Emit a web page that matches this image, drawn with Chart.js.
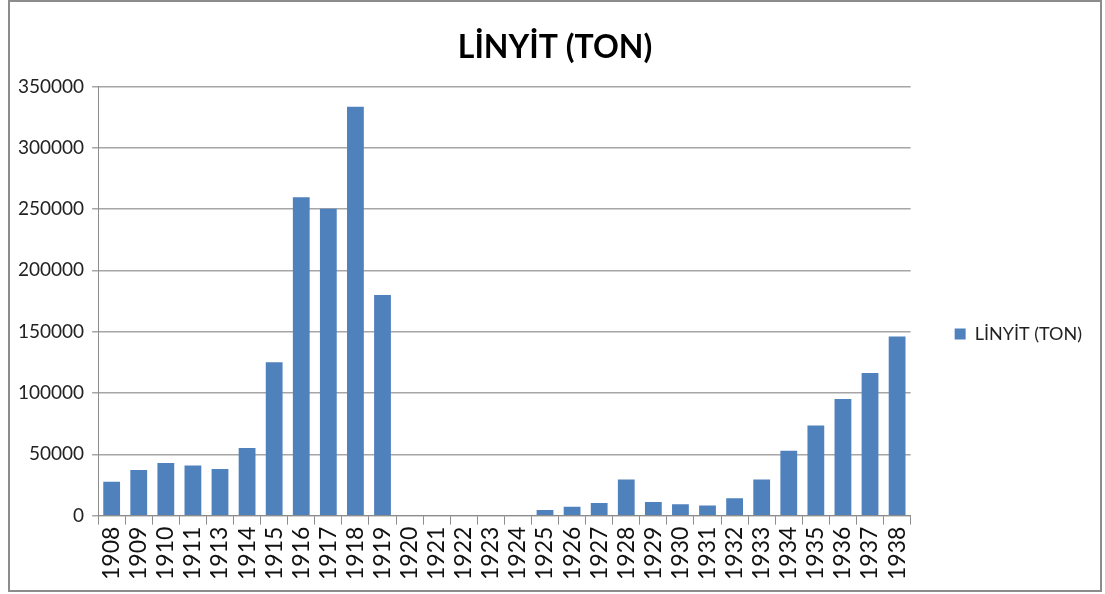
<!DOCTYPE html>
<html>
<head>
<meta charset="utf-8">
<script src="https://cdn.jsdelivr.net/npm/chart.js@4.4.0/dist/chart.umd.min.js"></script>
<style>
  html, body { margin: 0; padding: 0; background: #fff; }
  #wrap {
    position: absolute; left: 8px; top: 0px;
    width: 1090px; height: 588px;
    border: 2px solid #8c8c8c;
  }
  canvas { display: block; }
</style>
</head>
<body>
<div id="wrap"><canvas id="chart" width="1090" height="588"></canvas></div>
<script>
// years (1912 missing in the source)
const years = ["1908","1909","1910","1911","1913","1914","1915","1916","1917","1918","1919",
  "1920","1921","1922","1923","1924","1925","1926","1927","1928","1929","1930","1931",
  "1932","1933","1934","1935","1936","1937","1938"];

const linyit = [27700, 37300, 43000, 40800, 38100, 55200, 125000, 259700, 250200, 333400, 180000,
  0, 0, 0, 0, 0, 4600, 7300, 10300, 29400, 11100, 9200, 8200,
  14100, 29400, 53000, 73400, 95200, 116400, 146000];

const yTicks = [0, 50000, 100000, 150000, 200000, 250000, 300000, 350000];

const titleText = "LİNYİT (TON)";
const barColor = "#4f81bd";

// nudge legend and title to where the original has them
const boxShift = {
  id: "boxShift",
  afterLayout(chart) {
    chart.legend.left += 22;
    chart.legend.right += 22;
    chart.legend.top += 42;
    chart.legend.bottom += 42;
    chart.titleBlock.left += 15;
    chart.titleBlock.right += 15;
  }
};

const ctx = document.getElementById("chart");

new Chart(ctx, {
  type: "bar",
  data: {
    labels: years,
    datasets: [{
      label: titleText,
      data: linyit,
      backgroundColor: barColor,
      borderWidth: 0,
      barPercentage: 0.62,
      categoryPercentage: 1
    }]
  },
  options: {
    responsive: false,
    animation: false,
    layout: { padding: { left: 0, right: 30, top: 0, bottom: 8 } },
    plugins: {
      title: {
        display: true,
        text: titleText,
        color: "#000",
        font: { family: "Lato", size: 32, weight: "bold" },
        padding: { top: 26, bottom: 20 }
      },
      legend: {
        position: "right",
        labels: {
          color: "#222",
          font: { family: "Lato", size: 18 },
          boxWidth: 11,
          boxHeight: 11,
          padding: 22
        }
      },
      tooltip: { enabled: false }
    },
    scales: {
      x: {
        grid: {
          offset: true,
          drawOnChartArea: false,
          drawTicks: true,
          tickLength: 9,
          color: "#8c8c8c"
        },
        border: { color: "#8c8c8c", width: 1 },
        ticks: {
          color: "#111",
          font: { family: "Lato", size: 23 },
          minRotation: 90,
          maxRotation: 90,
          autoSkip: false,
          padding: 2
        }
      },
      y: {
        min: 0,
        max: 350000,
        afterBuildTicks: (axis) => { axis.ticks = yTicks.map(v => ({ value: v })); },
        grid: {
          color: "#a6a6a6",
          lineWidth: 1.5,
          drawTicks: true,
          tickLength: 6
        },
        border: { color: "#8c8c8c", width: 1 },
        ticks: {
          color: "#222",
          font: { family: "Lato", size: 19 },
          padding: 8,
          callback: (v) => String(v)
        }
      }
    }
  },
  plugins: [boxShift]
});
</script>
</body>
</html>
